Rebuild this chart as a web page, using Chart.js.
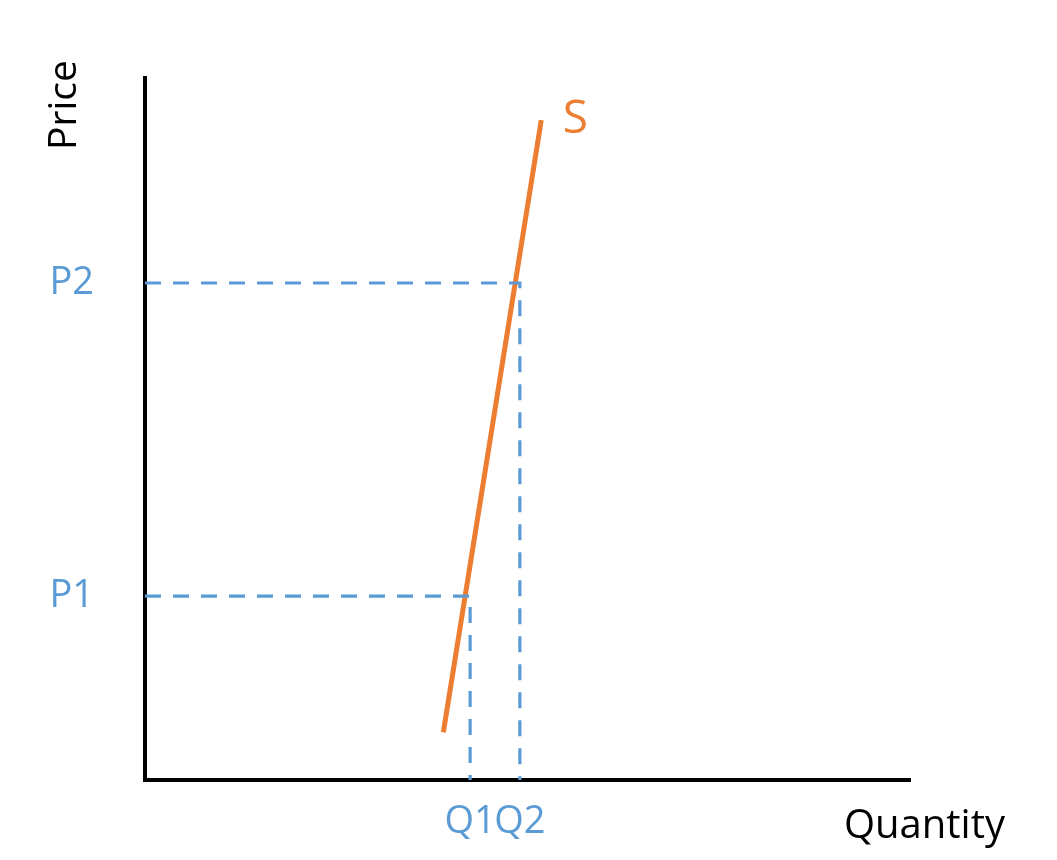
<!DOCTYPE html>
<html>
<head>
<meta charset="utf-8">
<script src="https://cdn.jsdelivr.net/npm/chart.js@4/dist/chart.umd.min.js"></script>
<style>
  body { margin: 0; background: #fff; }
  #wrap { width: 1057px; height: 860px; }
</style>
</head>
<body>
<div id="wrap"><canvas id="supplyChart"></canvas></div>
<script>
// Values (axes run 0..100)
const quantityLabels = ['Q1', 'Q2'];
const quantityValues = [42.5, 49.0];
const priceLabels = ['P1', 'P2'];
const priceValues = [26.2, 70.8];
const supplyQuantity = [39.0, 51.8];
const supplyPrice = [6.8, 94.0];

const ORANGE = '#ED7D31';
const BLUE = '#5B9BD5';
const FONT = '"Open Sans", "Noto Sans", sans-serif';

// dashed guide from the price axis to the curve and down to the quantity axis
const guide = i => ({
    data: [
        { x: 0, y: priceValues[i] },
        { x: quantityValues[i], y: priceValues[i] },
        { x: quantityValues[i], y: 0 }
    ],
    borderColor: BLUE,
    borderWidth: 3.2,
    borderDash: [16, 12],
    pointRadius: 0,
    fill: false
});

// axis names and the curve label
const textPlugin = {
    id: 'axisText',
    afterDatasetsDraw(chart) {
        const { ctx, chartArea, scales } = chart;
        ctx.save();
        ctx.fillStyle = '#000';
        ctx.font = `39px ${FONT}`;
        ctx.textAlign = 'center';
        ctx.textBaseline = 'middle';
        ctx.translate(chartArea.left - 80, chartArea.top + 27);
        ctx.rotate(-Math.PI / 2);
        ctx.fillText('Price', 0, 0);
        ctx.restore();

        ctx.save();
        ctx.fillStyle = '#000';
        ctx.font = `40px ${FONT}`;
        ctx.textAlign = 'right';
        ctx.textBaseline = 'alphabetic';
        ctx.fillText('Quantity', chartArea.right + 95, chartArea.bottom + 58);

        ctx.fillStyle = ORANGE;
        ctx.font = `46px ${FONT}`;
        ctx.textAlign = 'center';
        ctx.textBaseline = 'middle';
        ctx.fillText('S',
            scales.x.getPixelForValue(supplyQuantity[1]) + 34,
            scales.y.getPixelForValue(supplyPrice[1]));
        ctx.restore();
    }
};

new Chart(document.getElementById('supplyChart'), {
    type: 'line',
    data: {
        datasets: [
            guide(1),
            guide(0),
            {
                data: supplyQuantity.map((q, i) => ({ x: q, y: supplyPrice[i] })),
                borderColor: ORANGE,
                borderWidth: 5,
                pointRadius: 0,
                fill: false
            }
        ]
    },
    options: {
        responsive: true,
        maintainAspectRatio: false,
        animation: false,
        layout: { padding: { top: 78, right: 147, bottom: 0, left: 0 } },
        plugins: { legend: { display: false }, tooltip: { enabled: false } },
        scales: {
            x: {
                type: 'linear',
                min: 0, max: 100,
                grid: { display: false, drawTicks: false },
                border: { display: true, color: '#000', width: 4 },
                afterBuildTicks: s => { s.ticks = quantityValues.map(v => ({ value: v })); },
                afterFit: s => { s.height = 80; },
                ticks: {
                    autoSkip: false,
                    maxRotation: 0,
                    padding: 19,
                    color: BLUE,
                    font: { family: FONT, size: 38 },
                    callback: (v, i) => quantityLabels[i]
                }
            },
            y: {
                type: 'linear',
                min: 0, max: 100,
                grid: { display: false, drawTicks: false },
                border: { display: true, color: '#000', width: 4 },
                afterBuildTicks: s => { s.ticks = priceValues.map(v => ({ value: v })); },
                afterFit: s => { s.width = 145; },
                ticks: {
                    autoSkip: false,
                    padding: 51,
                    color: BLUE,
                    font: { family: FONT, size: 38 },
                    callback: (v, i) => priceLabels[i]
                }
            }
        }
    },
    plugins: [textPlugin]
});
</script>
</body>
</html>
